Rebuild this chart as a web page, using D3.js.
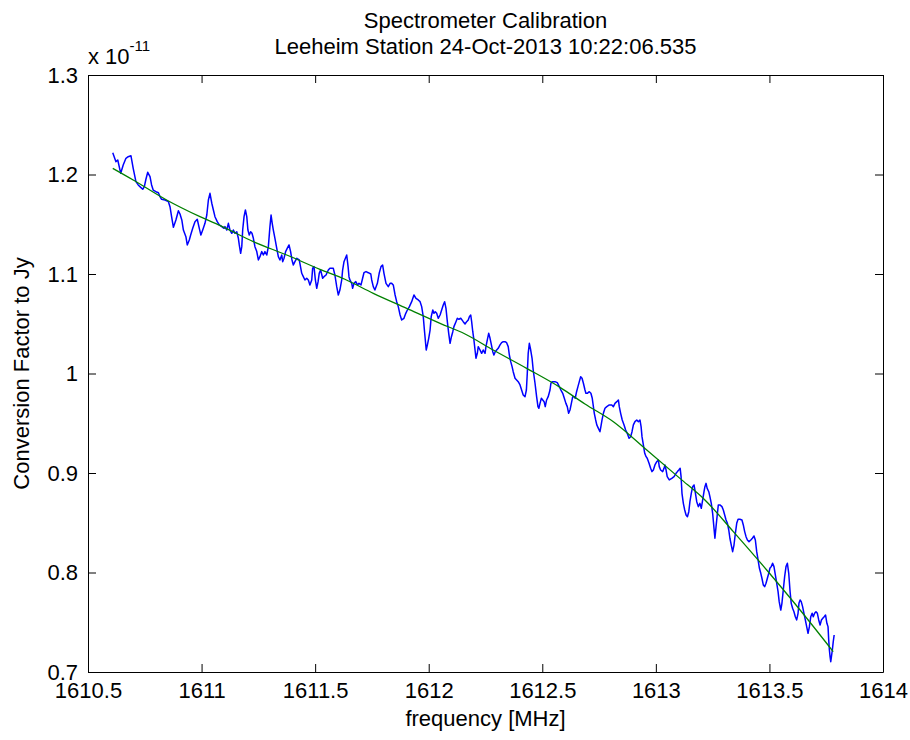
<!DOCTYPE html>
<html><head><meta charset="utf-8">
<script src="https://cdn.jsdelivr.net/npm/d3@7"></script>
<style>
html,body{margin:0;padding:0;background:#fff;}
svg text{font-family:"Liberation Sans", Arial, Helvetica, sans-serif;fill:#000;}
</style>
</head><body>
<svg id="chart" width="910" height="740"></svg>
<script>
const titleLines = ["Spectrometer Calibration", "Leeheim Station 24-Oct-2013 10:22:06.535"];
const xLabel = "frequency [MHz]";
const yLabel = "Conversion Factor to Jy";
const yExponent = "-11";
const xTicks = [1610.5, 1611, 1611.5, 1612, 1612.5, 1613, 1613.5, 1614];
const yTicks = [0.7, 0.8, 0.9, 1, 1.1, 1.2, 1.3];

// measured conversion factor (units of 1e-11)
const freqBlue = [
1610.609,1610.623,1610.631,1610.644,1610.655,1610.667,1610.677,1610.689,1610.699,1610.711,1610.721,1610.732,1610.741,1610.748,1610.755,1610.763,1610.773,1610.780,1610.787,1610.799,1610.810,1610.817,1610.824,1610.839,1610.854,1610.861,1610.868,1610.876,1610.887,1610.898,1610.905,1610.913,1610.920,1610.931,1610.937,1610.946,1610.952,1610.961,1610.971,1610.981,1610.990,1610.997,1611.005,1611.015,1611.023,1611.030,1611.037,1611.045,1611.052,1611.059,1611.069,1611.078,1611.089,1611.099,
1611.103,1611.111,1611.118,1611.125,1611.133,1611.140,1611.147,1611.155,1611.162,1611.166,1611.172,1611.177,1611.181,1611.187,1611.193,1611.199,1611.204,1611.210,1611.216,1611.222,1611.228,1611.235,1611.243,1611.250,1611.257,1611.265,1611.272,1611.279,1611.287,1611.294,1611.301,1611.306,1611.311,1611.316,1611.323,1611.331,1611.338,1611.345,1611.353,1611.357,1611.363,1611.370,1611.377,1611.385,1611.392,1611.398,1611.404,1611.411,1611.419,1611.430,1611.441,1611.448,1611.455,1611.463,1611.470,1611.477,1611.485,1611.489,1611.495,1611.501,1611.507,1611.513,1611.518,1611.524,1611.533,1611.539,1611.548,1611.558,1611.565,1611.580,1611.587,1611.595,1611.602,1611.609,1611.617,1611.621,1611.627,
1611.639,1611.645,1611.649,1611.653,1611.661,1611.665,1611.671,1611.679,1611.686,1611.693,1611.702,1611.709,1611.715,1611.724,1611.734,1611.745,1611.749,1611.756,1611.763,1611.774,1611.782,1611.790,1611.797,1611.803,1611.812,1611.822,1611.830,1611.837,1611.844,1611.852,1611.859,1611.866,1611.874,1611.881,1611.891,1611.899,1611.906,1611.915,1611.925,1611.935,1611.944,1611.954,1611.962,1611.969,1611.976,1611.981,1611.985,1611.989,1611.994,1612.000,1612.006,1612.011,1612.018,1612.023,1612.029,1612.035,1612.042,1612.050,1612.057,1612.064,1612.070,1612.076,1612.082,1612.088,1612.094,1612.100,1612.106,1612.111,1612.120,1612.126,1612.133,1612.141,1612.152,
1612.160,1612.167,1612.174,1612.179,1612.185,1612.189,1612.194,1612.199,1612.204,1612.208,1612.214,1612.218,1612.226,1612.233,1612.240,1612.248,1612.252,1612.258,1612.264,1612.270,1612.276,1612.282,1612.287,1612.293,1612.299,1612.306,1612.314,1612.321,1612.328,1612.336,1612.343,1612.350,1612.355,1612.361,1612.367,1612.372,1612.380,1612.387,1612.394,1612.402,1612.409,1612.416,1612.424,1612.430,1612.434,1612.438,1612.443,1612.449,1612.455,1612.460,1612.468,1612.475,1612.481,1612.485,1612.490,1612.496,1612.502,1612.508,1612.513,1612.519,1612.526,1612.534,1612.538,1612.544,1612.556,1612.566,1612.575,1612.582,1612.590,1612.597,1612.604,1612.610,1612.616,1612.622,1612.628,1612.634,1612.640,1612.645,1612.651,1612.657,1612.663,1612.669,1612.675,1612.681,1612.688,
1612.692,1612.698,1612.707,1612.714,1612.720,1612.725,1612.729,1612.735,1612.740,1612.747,1612.754,1612.758,1612.763,1612.769,1612.776,1612.784,1612.795,1612.806,1612.813,1612.820,1612.828,1612.835,1612.839,1612.845,1612.852,1612.860,1612.867,1612.874,1612.882,1612.889,1612.895,1612.901,1612.908,1612.916,1612.923,1612.930,1612.935,1612.939,1612.945,1612.951,1612.957,1612.962,1612.970,1612.977,1612.983,1612.989,1612.996,1613.004,1613.011,1613.015,1613.021,1613.030,1613.036,1613.040,1613.045,1613.050,1613.059,1613.070,1613.080,1613.089,1613.095,1613.101,1613.107,1613.111,1613.115,1613.121,1613.127,1613.133,1613.139,1613.145,1613.150,1613.156,1613.162,1613.168,1613.172,1613.180,1613.187,1613.194,1613.200,
1613.212,1613.216,1613.221,1613.226,1613.233,1613.238,1613.244,1613.250,1613.256,1613.260,1613.265,1613.271,1613.275,1613.282,1613.291,1613.297,1613.303,1613.309,1613.315,1613.321,1613.326,1613.332,1613.338,1613.344,1613.350,1613.356,1613.362,1613.370,1613.379,1613.385,1613.391,1613.397,1613.403,1613.410,1613.418,1613.425,1613.432,1613.438,1613.444,1613.450,1613.456,1613.462,1613.467,1613.473,1613.479,1613.485,1613.491,1613.497,1613.502,1613.508,1613.514,1613.520,1613.526,1613.532,1613.538,1613.543,1613.550,1613.555,1613.561,1613.567,1613.573,1613.579,1613.585,1613.591,1613.596,1613.602,1613.608,1613.614,1613.620,1613.626,1613.630,1613.635,1613.640,1613.646,1613.652,1613.658,1613.664,1613.670,1613.676,1613.682,1613.688,1613.693,1613.699,1613.705,1613.711,1613.717,1613.723,1613.729,1613.735,1613.741,1613.747,1613.753,1613.758,1613.761,1613.764,1613.767,1613.770,1613.773,1613.777,1613.781,1613.785
];
const convBlue = [
1.2219,1.2129,1.2146,1.2012,1.2096,1.2163,1.2179,1.2189,1.2062,1.1928,1.1895,1.1871,1.1851,1.1878,1.1952,1.2022,1.1978,1.1895,1.1844,1.1827,1.1817,1.1777,1.1751,1.1744,1.1727,1.1676,1.1576,1.1469,1.1543,1.1636,1.1603,1.1543,1.1442,1.1375,1.1292,1.1342,1.1392,1.1459,1.1526,1.1550,1.1459,1.1392,1.1442,1.1509,1.1593,1.1744,1.1811,1.1711,1.1643,1.1576,1.1526,1.1493,1.1476,1.1459,
1.1476,1.1442,1.1509,1.1442,1.1409,1.1442,1.1409,1.1425,1.1359,1.1292,1.1208,1.1275,1.1442,1.1576,1.1643,1.1576,1.1442,1.1392,1.1425,1.1409,1.1359,1.1275,1.1225,1.1141,1.1174,1.1225,1.1191,1.1225,1.1191,1.1275,1.1476,1.1593,1.1509,1.1442,1.1359,1.1258,1.1174,1.1141,1.1191,1.1124,1.1158,1.1225,1.1258,1.1292,1.1225,1.1141,1.1091,1.1124,1.1158,1.1141,1.1007,1.0973,1.0940,1.0957,1.0940,1.0889,1.0940,1.1057,1.1074,1.0940,1.0856,1.0923,1.1007,1.1040,1.0957,1.0973,1.0990,1.1040,1.1057,1.1057,1.0990,1.0873,1.0789,1.0839,1.0940,1.1040,1.1124,
1.1191,1.1074,1.0973,1.0940,1.0906,1.0856,1.0906,1.0923,1.0890,1.0906,1.0890,1.0957,1.1013,1.1024,1.1013,1.1000,1.0940,1.0873,1.0839,1.0906,1.1007,1.1074,1.1091,1.1007,1.0906,1.0873,1.0906,1.0906,1.0890,1.0789,1.0722,1.0672,1.0588,1.0538,1.0555,1.0605,1.0638,1.0672,1.0722,1.0789,1.0756,1.0739,1.0722,1.0672,1.0571,1.0437,1.0337,1.0236,1.0286,1.0354,1.0437,1.0571,1.0638,1.0605,1.0621,1.0605,1.0555,1.0588,1.0638,1.0688,1.0722,1.0655,1.0521,1.0404,1.0303,1.0370,1.0420,1.0471,1.0521,1.0555,1.0545,1.0555,1.0521,
1.0498,1.0521,1.0538,1.0571,1.0588,1.0521,1.0420,1.0337,1.0236,1.0153,1.0203,1.0270,1.0236,1.0203,1.0236,1.0203,1.0270,1.0337,1.0404,1.0354,1.0287,1.0219,1.0186,1.0219,1.0236,1.0253,1.0287,1.0310,1.0320,1.0320,1.0310,1.0270,1.0186,1.0119,1.0069,1.0018,0.9952,0.9935,0.9918,0.9885,0.9834,0.9784,0.9767,0.9834,1.0002,1.0203,1.0303,1.0236,1.0153,1.0035,0.9902,0.9767,0.9667,0.9650,0.9700,0.9751,0.9734,0.9717,0.9667,0.9734,0.9767,0.9834,0.9902,0.9918,0.9918,0.9908,0.9868,0.9834,0.9801,0.9751,0.9700,0.9667,0.9600,0.9633,0.9700,0.9767,0.9767,0.9751,0.9817,0.9868,0.9918,0.9968,0.9952,0.9902,0.9834,
0.9801,0.9801,0.9817,0.9801,0.9751,0.9667,0.9600,0.9533,0.9483,0.9449,0.9415,0.9466,0.9533,0.9600,0.9650,0.9667,0.9684,0.9684,0.9667,0.9700,0.9717,0.9734,0.9667,0.9600,0.9533,0.9483,0.9432,0.9399,0.9349,0.9365,0.9415,0.9483,0.9516,0.9533,0.9516,0.9533,0.9466,0.9365,0.9282,0.9198,0.9164,0.9148,0.9098,0.9047,0.9014,0.9030,0.9081,0.9114,0.9131,0.9064,0.9030,0.9014,0.9047,0.9081,0.9030,0.8963,0.8930,0.8946,0.8963,0.8997,0.9014,0.9030,0.9047,0.8963,0.8796,0.8695,0.8628,0.8578,0.8561,0.8611,0.8712,0.8796,0.8863,0.8880,0.8829,0.8712,0.8662,0.8695,0.8645,
0.8812,0.8862,0.8896,0.8846,0.8812,0.8762,0.8695,0.8595,0.8444,0.8344,0.8461,0.8595,0.8679,0.8679,0.8662,0.8628,0.8578,0.8528,0.8494,0.8427,0.8344,0.8276,0.8209,0.8276,0.8394,0.8494,0.8535,0.8535,0.8528,0.8478,0.8411,0.8360,0.8327,0.8310,0.8327,0.8344,0.8367,0.8327,0.8209,0.8126,0.8042,0.7992,0.7942,0.7875,0.7858,0.7892,0.7942,0.7992,0.8042,0.8059,0.8093,0.8059,0.7975,0.7892,0.7807,0.7707,0.7623,0.7690,0.7824,0.7958,0.8059,0.8093,0.7992,0.7807,0.7690,0.7640,0.7606,0.7556,0.7523,0.7590,0.7690,0.7724,0.7707,0.7657,0.7590,0.7523,0.7456,0.7389,0.7456,0.7556,0.7590,0.7556,0.7590,0.7606,0.7590,0.7523,0.7473,0.7523,0.7540,0.7556,0.7573,0.7489,0.7456,0.7322,0.7221,0.7154,0.7104,0.7154,0.7221,0.7305,0.7372
];

// smooth fit
const freqFit = [1610.609,1610.699,1610.846,1610.993,1611.099,1611.228,1611.375,1611.521,1611.631,1611.756,1611.903,1612.050,1612.160,1612.284,1612.431,1612.578,1612.688,1612.813,1612.960,1613.106,1613.216,1613.341,1613.488,1613.635,1613.781];
const convFit = [1.2062,1.1945,1.1744,1.1576,1.1469,1.1325,1.1191,1.1047,1.0947,1.0806,1.0655,1.0504,1.0397,1.0236,1.0052,0.9861,0.9694,0.9516,0.9231,0.8946,0.8729,0.8411,0.8025,0.7623,0.7204];

const W = 910, H = 740;
const L = 88, R = 883, T = 75, B = 672;
const FS = 22;

const svg = d3.select("#chart");
svg.append("rect").attr("width", W).attr("height", H).attr("fill", "#fff");

const x = d3.scaleLinear().domain([xTicks[0], xTicks[xTicks.length-1]]).range([L, R]);
const y = d3.scaleLinear().domain([yTicks[0], yTicks[yTicks.length-1]]).range([B, T]);

const blue = freqBlue.map((f, i) => [f, convBlue[i]]);
const fit = freqFit.map((f, i) => [f, convFit[i]]);

const line = d3.line().x(d => x(d[0])).y(d => y(d[1]));

svg.append("path").datum(blue).attr("d", line)
  .attr("fill", "none").attr("stroke", "#0000ff").attr("stroke-width", 1.5).attr("stroke-linejoin", "round");
svg.append("path").datum(fit).attr("d", line.curve(d3.curveMonotoneX))
  .attr("fill", "none").attr("stroke", "#008000").attr("stroke-width", 1.3);

const fmt = d => String(d);

const gx = svg.append("g").attr("transform", `translate(0,${B})`)
  .call(d3.axisBottom(x).tickValues(xTicks).tickFormat(fmt).tickSizeInner(-8).tickSizeOuter(0).tickPadding(10));
const gxt = svg.append("g").attr("transform", `translate(0,${T})`)
  .call(d3.axisTop(x).tickValues(xTicks).tickFormat("").tickSizeInner(-8).tickSizeOuter(0));
const gy = svg.append("g").attr("transform", `translate(${L},0)`)
  .call(d3.axisLeft(y).tickValues(yTicks).tickFormat(fmt).tickSizeInner(-8).tickSizeOuter(0).tickPadding(10));
const gyr = svg.append("g").attr("transform", `translate(${R},0)`)
  .call(d3.axisRight(y).tickValues(yTicks).tickFormat("").tickSizeInner(-8).tickSizeOuter(0));

[gx, gxt, gy, gyr].forEach(g => {
  g.selectAll("path.domain").attr("stroke", "#000").attr("stroke-width", 1);
  g.selectAll(".tick line").attr("stroke", "#000").attr("stroke-width", 1);
  g.selectAll(".tick text").attr("font-size", FS).attr("font-family", "Liberation Sans, Arial, sans-serif").attr("fill", "#000");
});

// titles
svg.append("text").attr("x", (L + R) / 2).attr("y", 28).attr("text-anchor", "middle")
  .attr("font-size", FS).text(titleLines[0]);
svg.append("text").attr("x", (L + R) / 2).attr("y", 54).attr("text-anchor", "middle")
  .attr("font-size", FS).text(titleLines[1]);

// axis labels
svg.append("text").attr("x", (L + R) / 2).attr("y", 726).attr("text-anchor", "middle")
  .attr("font-size", FS).text(xLabel);
svg.append("text").attr("transform", `translate(29,${(T + B) / 2}) rotate(-90)`).attr("text-anchor", "middle")
  .attr("font-size", FS).text(yLabel);

// exponent
const ex = svg.append("text").attr("x", L).attr("y", 64).attr("font-size", FS);
ex.append("tspan").text("x 10");
ex.append("tspan").attr("dy", -13).attr("font-size", 15).text(yExponent);
</script>
</body></html>
